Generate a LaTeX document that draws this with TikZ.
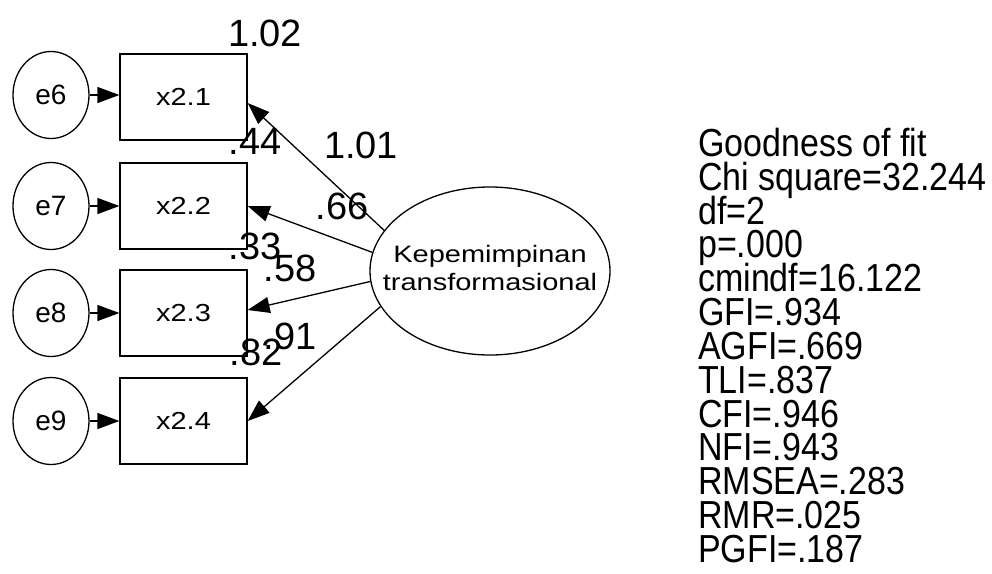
\documentclass[tikz,border=0pt]{standalone}
\usepackage{fontspec}
\setmainfont{Liberation Sans}
\usetikzlibrary{arrows.meta,shapes.geometric,calc}
\newcommand{\gofont}{\fontsize{34}{29.4}\selectfont\lineskiplimit=-100pt\relax}
\begin{document}
\begin{tikzpicture}[x=1pt,y=-1pt,
  every node/.style={inner sep=0pt},
  obs/.style={draw, rectangle, minimum width=127pt, minimum height=86pt, line width=1.3pt, font=\fontsize{29}{34}\selectfont},
  err/.style={draw, ellipse, minimum width=76pt, minimum height=87pt, line width=1.3pt, font=\fontsize{28}{33}\selectfont},
  lat/.style={draw, ellipse, minimum width=240pt, minimum height=168pt, line width=1.3pt},
  coef/.style={font=\fontsize{38}{44}\selectfont},
  arr/.style={line width=1.3pt, -{Triangle[length=22pt,width=16pt]}},
]
\useasboundingbox (0,0) rectangle (992,573);
\fill[white] (0,0) rectangle (992,573);

% error terms and indicators
\node[err] (e6) at (51,95) {e6};
\node[err] (e7) at (51,206) {e7};
\node[err] (e8) at (51,313) {e8};
\node[err] (e9) at (51,421) {e9};
\node[obs] (x21) at (183.5,97) {\scalebox{1}[0.85]{x2.1}};
\node[obs] (x22) at (183.5,206) {\scalebox{1}[0.85]{x2.2}};
\node[obs] (x23) at (183.5,313) {\scalebox{1}[0.85]{x2.3}};
\node[obs] (x24) at (183.5,421) {\scalebox{1}[0.85]{x2.4}};

\draw[arr] (e6.east) -- (x21.west |- e6.east);
\draw[arr] (e7.east) -- (x22.west |- e7.east);
\draw[arr] (e8.east) -- (x23.west |- e8.east);
\draw[arr] (e9.east) -- (x24.west |- e9.east);

% latent variable
\node[lat, label={[font=\fontsize{29}{34}\selectfont]center:{\scalebox{1}[0.82]{\begin{tabular}{@{}c@{}}Kepemimpinan\\transformasional\end{tabular}}}}] (K) at (490,271) {};

\draw[arr] (K.159.6) -- ($(x21.east)+(0,6)$);
\draw[arr] (K.171) -- (x22.east);
\draw[arr] (K.185.6) -- ($(x23.east)+(0,-3)$);
\draw[arr] (K.198.6) -- (x24.east);

% coefficients
\node[coef] (l102) at (265,33) {1.02};
\node[coef] (l101) at (361,145) {1.01};
\node[coef] (l66) at (342,206) {.66};
\node[coef] (l44) at (255,141) {.44};
\node[coef] (l33) at (255,246) {.33};
\node[coef] (l58) at (290,268) {.58};
\node[coef] (l82) at (256,352) {.82};
\node[coef, anchor=east] (l91) at (317,336) {.91};

% fit statistics
\node[anchor=north west, align=left, yscale=1.15, transform shape, font=\gofont] (gof) at (698,128)
  {Goodness of fit\\Chi square=32.244\\df=2\\p=.000\\cmindf=16.122\\GFI=.934\\AGFI=.669\\TLI=.837\\CFI=.946\\NFI=.943\\RMSEA=.283\\RMR=.025\\PGFI=.187};
\end{tikzpicture}
\end{document}
